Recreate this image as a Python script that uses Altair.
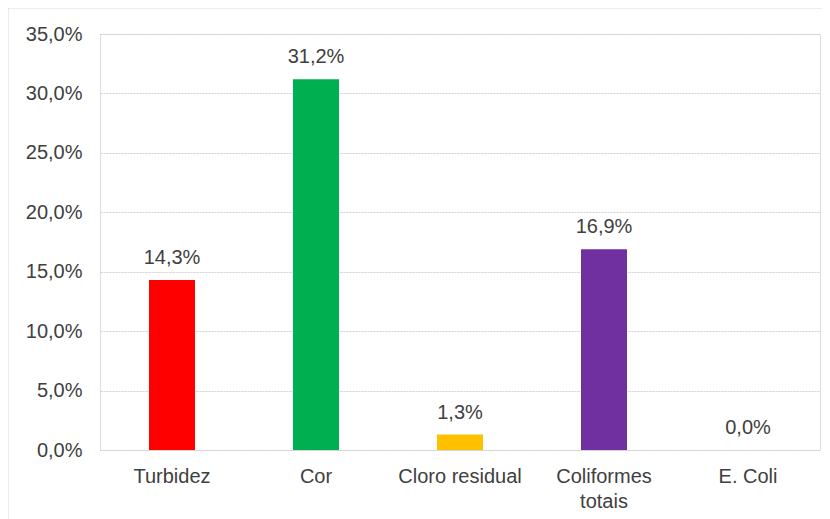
import altair as alt
import pandas as pd

categories = ["Turbidez", "Cor", "Cloro residual", "Coliformes totais", "E. Coli"]
values = [0.143, 0.312, 0.013, 0.169, 0.0]
colors = ["#FF0000", "#00B050", "#FFC000", "#7030A0", "#4472C4"]
y_ticks = [0, 0.05, 0.10, 0.15, 0.20, 0.25, 0.30, 0.35]

df = pd.DataFrame({"cat": categories, "val": values, "color": colors})

FONT = "Liberation Sans"
TXT = "#404040"
FS = 20

base = alt.Chart(df)

bars = base.mark_bar(size=46).encode(
    x=alt.X("cat:N", sort=categories,
            scale=alt.Scale(paddingInner=0.68, paddingOuter=0.34),
            axis=alt.Axis(title=None, domain=False, ticks=False, grid=False, labelAngle=0,
                          labelFont=FONT, labelFontSize=FS, labelColor=TXT,
                          labelPadding=16, labelLineHeight=25,
                          labelExpr="datum.label == 'Coliformes totais' ? ['Coliformes','totais'] : datum.label")),
    y=alt.Y("val:Q", scale=alt.Scale(domain=[0, 0.35], nice=False),
            axis=alt.Axis(title=None, values=y_ticks, domain=False, ticks=False,
                          labelFont=FONT, labelFontSize=FS, labelColor=TXT, labelPadding=18,
                          labelExpr="replace(format(datum.value, '.1%'), '.', ',')",
                          gridColor="#D0D0D0", gridDash=[2, 1], gridWidth=1)),
    color=alt.Color("color:N", scale=None),
)

labels = base.transform_calculate(
    lab="replace(format(datum.val, '.1%'), '.', ',')"
).mark_text(baseline="alphabetic", dy=-16, font=FONT, fontSize=FS, color=TXT).encode(
    x=alt.X("cat:N", sort=categories),
    y=alt.Y("val:Q"),
    text="lab:N",
)

border = alt.Chart(pd.DataFrame({"a": [0]})).mark_rect(
    fill=None, stroke="#D9D9D9", strokeWidth=1
).encode(
    x=alt.value(-92), x2=alt.value(740), y=alt.value(-26), y2=alt.value(600)
)

chart = alt.layer(border, bars, labels).properties(
    width=720, height=416,
    autosize=alt.AutoSizeParams(type="none"),
    padding={"left": 92, "top": 26, "right": 2, "bottom": 69},
).configure_view(stroke=None).configure(background="white")

chart.save("out.html", embed_options={"renderer": "svg", "actions": False})
